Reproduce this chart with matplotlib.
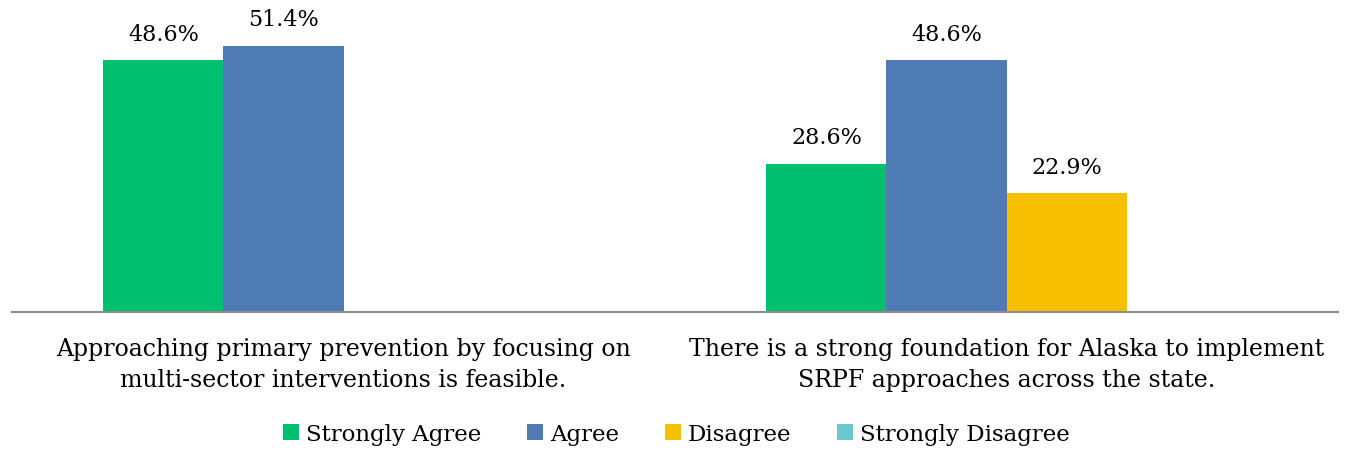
import numpy as np
import matplotlib.pyplot as plt

plt.rcParams['font.family'] = ['DejaVu Serif']

categories = ['Approaching primary prevention by focusing on\nmulti-sector interventions is feasible.',
              'There is a strong foundation for Alaska to implement\nSRPF approaches across the state.']
series = ['Strongly Agree', 'Agree', 'Disagree', 'Strongly Disagree']
values = [
    [48.6, 28.6],   # Strongly Agree
    [51.4, 48.6],   # Agree
    [0.0, 22.9],    # Disagree
    [0.0, 0.0],     # Strongly Disagree
]
colors = ['#00BF6F', '#4F7BB5', '#F8BE00', '#6CC8CC']

fig = plt.figure(figsize=(13.53, 4.52), dpi=100)
ax = fig.add_axes([12/1353, 1-313/452, 1326/1353, 311/452])

x = np.arange(len(categories))
w = 0.181
for i, (name, vals) in enumerate(zip(series, values)):
    pos = x + (i - 1.5) * w
    bars = ax.bar(pos, vals, w, color=colors[i], label=name)
    for b, v in zip(bars, vals):
        if v > 0:
            ax.text(b.get_x() + b.get_width()/2, v + 3.0, f'{v:.1f}%',
                    ha='center', va='bottom', fontsize=16)

ax.set_xlim(-0.5, 1.5)
ax.set_ylim(0, 60)
ax.set_yticks([])
ax.set_xticks(x)
ax.set_xticklabels(categories, fontsize=17, linespacing=1.45)
ax.tick_params(axis='x', length=0, pad=18)
for s in ['top', 'right', 'left']:
    ax.spines[s].set_visible(False)
ax.spines['bottom'].set_color('#8C8C8C')
ax.spines['bottom'].set_linewidth(1.5)

fig.legend(loc='center', bbox_to_anchor=(0.5, 1-435/452), ncol=4, frameon=False,
           fontsize=16.5, handlelength=0.7, handleheight=0.7, handletextpad=0.3,
           columnspacing=2.0)

fig.savefig('out.png', dpi=100)
